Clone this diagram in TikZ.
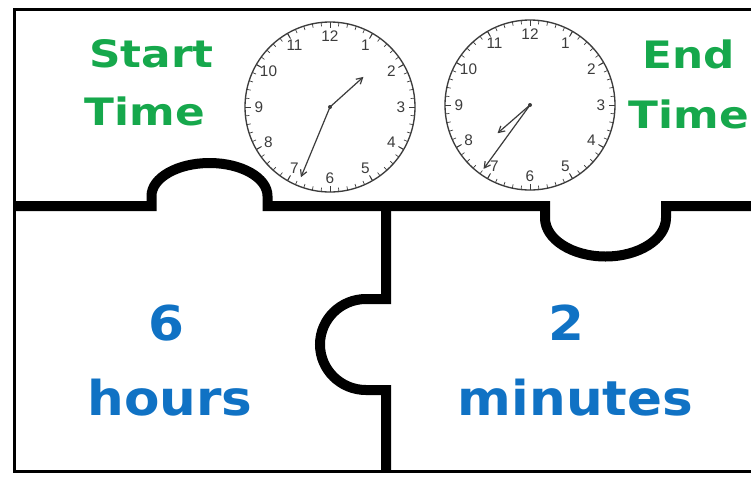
\documentclass[tikz,border=0pt]{standalone}
\usepackage{fontspec}
\usetikzlibrary{arrows.meta}
\newfontfamily\headfont[FakeStretch=1.16]{DejaVu Sans}
\newfontfamily\countfont[FakeStretch=1.075]{DejaVu Sans}
\newfontfamily\dialfont{Liberation Sans}
\definecolor{startgreen}{RGB}{22,168,76}
\definecolor{countblue}{RGB}{16,114,196}
\definecolor{dialgray}{RGB}{60,60,60}
\tikzset{
  headtext/.style={font=\headfont\bfseries\fontsize{28.3}{34}\selectfont, text=startgreen, anchor=base, inner sep=0pt},
  counttext/.style={font=\countfont\bfseries\fontsize{36}{40}\selectfont, text=countblue, anchor=base, inner sep=0pt},
  dialnum/.style={font=\dialfont\fontsize{11.5}{11.5}\selectfont, text=dialgray, inner sep=0pt},
  puzzleline/.style={line width=7.5pt},
  dialline/.style={draw=dialgray, line width=1pt},
  hand/.style={-{Straight Barb[length=4.5pt,width=5pt]}, draw=dialgray, line width=0.9pt},
}

\begin{document}
\begin{tikzpicture}[x=0.75pt, y=-0.75pt]
  \useasboundingbox (0,0) rectangle (751,476);
  \clip (0,0) rectangle (751,476);
  \fill[white] (0,0) rectangle (751,476);
  % Outer frame
  \draw[line width=2.25pt] (14,9) rectangle (780,471);
  % Puzzle cuts
  \draw[puzzleline] (14,206) -- (151.5,206) -- (151.5,196)
     arc[start angle=180, end angle=360, x radius=58, y radius=33]
     -- (267.5,206) -- (545,206) -- (545,218)
     arc[start angle=180, end angle=0, x radius=60.5, y radius=38.5]
     -- (666,206) -- (780,206);
  \draw[puzzleline] (386,206) -- (386,299) -- (366,299)
     arc[start angle=270, end angle=90, x radius=46, y radius=45.5]
     -- (386,390) -- (386,471);
  % Top labels
  \node[headtext] (start) at (151.5,67) {Start};
  \node[headtext] (starttime) at (145,125) {Time};
  \node[headtext] (end) at (689,68) {End};
  \node[headtext, anchor=base east] (endtime) at (749,128) {Time};
  % Elapsed time
  \node[counttext] (hournum) at (166.5,340) {6};
  \node[counttext] (hourword) at (170,415) {hours};
  \node[counttext] (minnum) at (566.5,340) {2};
  \node[counttext] (minword) at (575.5,415) {minutes};
  % Clock faces
  \foreach \name/\cx/\cy/\hr/\hl/\mn/\ml in {startclock/330/107/-42/45/112.5/76, endclock/530/105/139/43/126/79} {
    \begin{scope}[shift={(\cx,\cy)}]
      \draw[dialline] (0,0) circle[radius=85];
      \foreach \m in {0,...,59}
        \draw[dialgray, line width=0.5pt] (6*\m:85) -- (6*\m:81);
      \foreach \h in {1,...,12} {
        \draw[dialgray, line width=0.7pt] (30*\h:85) -- (30*\h:79);
        \node[dialnum] (\name-\h) at (30*\h-90:71) {\h};
      }
      \draw[hand] (0,0) -- (\hr:\hl);
      \draw[hand] (0,0) -- (\mn:\ml);
      \fill[dialgray] (0,0) circle[radius=2];
    \end{scope}
  }
\end{tikzpicture}
\end{document}
